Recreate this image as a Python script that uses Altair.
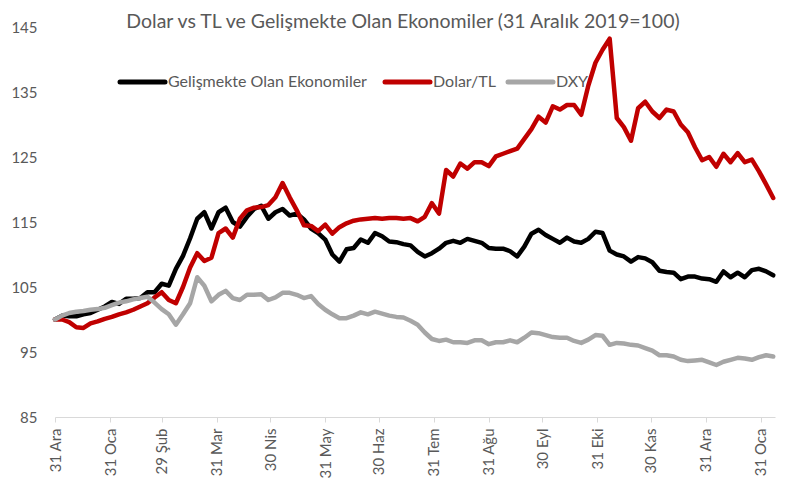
import altair as alt
import pandas as pd

# 4-day sampling from 31 Dec 2019
dates = pd.date_range("2019-12-31", periods=102, freq="4D").strftime("%Y-%m-%d").tolist()

em = [100.0, 100.6, 100.5, 100.5, 100.8, 101.0, 101.5, 102.0, 102.7, 102.4,
      103.2, 103.2, 103.3, 104.2, 104.2, 105.5, 105.2, 107.8, 109.8, 112.5,
      115.5, 116.5, 114.0, 116.5, 117.2, 115.0, 114.3, 115.8, 117.0, 117.5,
      115.5, 116.5, 117.0, 116.0, 116.3, 115.4, 114.0, 113.3, 112.3, 110.0,
      108.9, 110.8, 111.0, 112.3, 111.8, 113.3, 112.8, 112.0, 111.9, 111.6,
      111.4, 110.4, 109.7, 110.2, 110.9, 111.8, 112.1, 111.8, 112.4, 112.1,
      111.8, 111.0, 110.9, 110.9, 110.5, 109.7, 111.2, 113.2, 113.8, 113.0,
      112.4, 111.8, 112.6, 112.0, 111.8, 112.4, 113.5, 113.3, 110.6, 110.0,
      109.7, 108.9, 109.6, 109.4, 108.8, 107.5, 107.3, 107.2, 106.2, 106.6,
      106.6, 106.3, 106.2, 105.8, 107.4, 106.5, 107.2, 106.5, 107.6, 107.8,
      107.4, 106.8]

usdtry = [100.0, 100.0, 99.6, 98.8, 98.7, 99.4, 99.7, 100.1, 100.4, 100.8,
          101.1, 101.5, 102.0, 102.5, 103.4, 104.2, 103.0, 102.5, 105.0, 108.0,
          110.2, 109.0, 109.5, 113.3, 114.0, 112.6, 115.5, 116.8, 117.2, 117.3,
          117.6, 118.8, 121.0, 118.8, 116.8, 114.5, 114.4, 113.6, 114.6, 113.2,
          114.2, 114.8, 115.2, 115.4, 115.5, 115.6, 115.5, 115.6, 115.6, 115.5,
          115.6, 115.1, 115.8, 117.9, 116.3, 123.0, 122.0, 124.0, 123.2, 124.2,
          124.2, 123.6, 125.1, 125.5, 125.9, 126.3, 127.8, 129.3, 131.2, 130.3,
          132.8, 132.3, 133.0, 133.0, 131.5, 136.0, 139.5, 141.5, 143.2, 131.0,
          129.6, 127.5, 132.5, 133.5, 132.0, 131.0, 132.3, 132.0, 130.0, 128.8,
          126.5, 124.5, 125.0, 123.5, 125.5, 124.2, 125.6, 124.2, 124.6, 122.8,
          120.8, 118.7]

dxy = [100.0, 100.6, 101.0, 101.2, 101.3, 101.5, 101.6, 101.8, 102.2, 102.6,
       102.8, 103.1, 103.3, 103.5, 102.6, 101.6, 100.8, 99.2, 100.8, 102.5,
       106.5, 105.2, 102.8, 103.8, 104.4, 103.3, 103.0, 103.8, 103.8, 103.9,
       103.0, 103.4, 104.1, 104.1, 103.8, 103.3, 103.6, 102.4, 101.5, 100.8,
       100.2, 100.2, 100.6, 101.1, 100.8, 101.2, 100.9, 100.6, 100.4, 100.3,
       99.8, 99.2, 98.0, 97.0, 96.7, 96.9, 96.5, 96.5, 96.4, 96.8,
       96.8, 96.2, 96.5, 96.5, 96.8, 96.5, 97.2, 98.0, 97.9, 97.6,
       97.3, 97.2, 97.2, 96.7, 96.4, 96.9, 97.6, 97.5, 96.1, 96.4,
       96.3, 96.1, 96.0, 95.6, 95.2, 94.5, 94.5, 94.3, 93.8, 93.6,
       93.7, 93.8, 93.4, 93.0, 93.5, 93.8, 94.1, 94.0, 93.8, 94.2,
       94.5, 94.3]

series_names = ["Gelişmekte Olan Ekonomiler", "Dolar/TL", "DXY"]
series_colors = ["#000000", "#c00000", "#a6a6a6"]
y_ticks = [85, 95, 105, 115, 125, 135, 145]
x_ticks = [(2019, 12, 31), (2020, 1, 31), (2020, 2, 29), (2020, 3, 31), (2020, 4, 30),
           (2020, 5, 31), (2020, 6, 30), (2020, 7, 31), (2020, 8, 31), (2020, 9, 30),
           (2020, 10, 31), (2020, 11, 30), (2020, 12, 31), (2021, 1, 31)]
month_names = ["Oca", "Şub", "Mar", "Nis", "May", "Haz", "Tem", "Ağu", "Eyl", "Eki", "Kas", "Ara"]

rows = []
for name, vals in zip(series_names, [em, usdtry, dxy]):
    for d, v in zip(dates, vals):
        rows.append({"date": d, "value": v, "series": name})
df = pd.DataFrame(rows)

label_expr = ("utcdate(datum.value) + ' ' + " + str(month_names).replace('"', "'")
              + "[utcmonth(datum.value)]")

lines = alt.Chart(df).mark_line(strokeWidth=4.5, strokeJoin="round", strokeCap="round").encode(
    x=alt.X("date:T",
            scale=alt.Scale(type="utc",
                            domain=[alt.DateTime(year=2019, month=12, date=31, utc=True),
                                    alt.DateTime(year=2021, month=2, date=8, utc=True)],
                            nice=False),
            axis=alt.Axis(values=[alt.DateTime(year=y, month=m, date=d, utc=True) for y, m, d in x_ticks],
                          labelExpr=label_expr, labelAngle=270, labelAlign="right",
                          labelBaseline="middle", labelFont="Lato", labelFontSize=15,
                          labelColor="#595959", labelPadding=6, tickSize=5,
                          tickColor="#d9d9d9", domainColor="#d9d9d9", domainWidth=1,
                          grid=False, title=None, labelOverlap=False)),
    y=alt.Y("value:Q",
            scale=alt.Scale(domain=[85, 145], nice=False, zero=False),
            axis=alt.Axis(values=y_ticks, domain=False, ticks=False, grid=False,
                          labelFont="Lato", labelFontSize=15, labelColor="#595959",
                          labelPadding=18, title=None)),
    color=alt.Color("series:N",
                    scale=alt.Scale(domain=series_names, range=series_colors),
                    sort=series_names, legend=None),
)

# Legend drawn by hand (inside the plot, top-left), one swatch + label per series
one = pd.DataFrame({"k": [0]})
legend_x = [65, 330, 453]     # swatch start (px in plot area)
legend_len = 45
legend_y = 55
legend_layers = []
for name, color, lx in zip(series_names, series_colors, legend_x):
    legend_layers.append(
        alt.Chart(one).mark_rule(strokeWidth=5, color=color, strokeCap="round").encode(
            x=alt.value(lx), x2=alt.value(lx + legend_len), y=alt.value(legend_y)))
    legend_layers.append(
        alt.Chart(one).mark_text(text=name, font="Lato", fontSize=16, color="#595959",
                                 align="left", baseline="middle").encode(
            x=alt.value(lx + legend_len + 3), y=alt.value(legend_y)))

chart = alt.layer(lines, *legend_layers).properties(
    width=720,
    height=390,
    autosize=alt.AutoSizeParams(type="none"),
    padding={"left": 47, "top": 19, "right": 4, "bottom": 61},
    title=alt.Title("Dolar vs TL ve Gelişmekte Olan Ekonomiler (31 Aralık 2019=100)",
                    font="Lato", fontSize=19.5, fontWeight="normal", color="#595959",
                    anchor="middle", frame="group", offset=2, dy=14, dx=-12),
).configure_view(stroke=None)

chart.save("out.html", embed_options={"renderer": "svg", "actions": False})
